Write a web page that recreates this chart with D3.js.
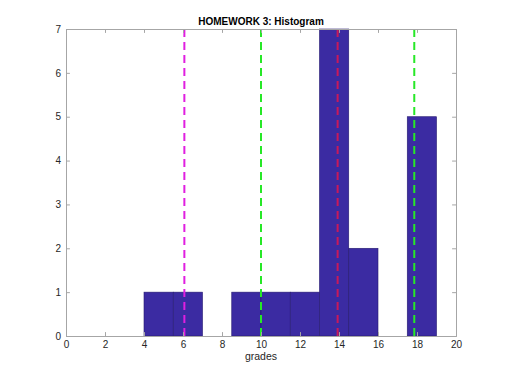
<!DOCTYPE html>
<html>
<head>
<meta charset="utf-8">
<script src="https://d3js.org/d3.v7.min.js"></script>
<style>
  body { margin: 0; background: #fff; }
  text { font-family: "Liberation Sans", Arial, Helvetica, sans-serif; }
</style>
</head>
<body>
<svg id="chart"></svg>
<script>
// histogram bins (edges) and counts
const binEdges = [4, 5.5, 7, 8.5, 10, 11.5, 13, 14.5, 16, 17.5, 19];
const binCounts = [1, 1, 0, 1, 1, 1, 7, 2, 0, 5];

// vertical dashed lines: mean -2sd, -1sd, mean, +1sd
const lineValues = [6.07, 10.0, 13.93, 17.86];
const lineColors = ["#e01fe0", "#27e827", "#c8195a", "#27e827"];

const xTicks = [0, 2, 4, 6, 8, 10, 12, 14, 16, 18, 20];
const yTicks = [0, 1, 2, 3, 4, 5, 6, 7];

const titleText = "HOMEWORK 3: Histogram";
const xLabelText = "grades";

const width = 505, height = 378;
const margin = { top: 29, right: 49, bottom: 42, left: 66 };
const innerW = width - margin.left - margin.right;
const innerH = height - margin.top - margin.bottom;
const tickLen = 3.9;
const axisColor = "#a6a6a6";

const svg = d3.select("#chart")
    .attr("width", width)
    .attr("height", height);

const chart = svg.append("g")
    .attr("transform", `translate(${margin.left}, ${margin.top})`);

const xscale = d3.scaleLinear().domain([0, 20]).range([0, innerW]);
const yscale = d3.scaleLinear().domain([0, 7]).range([innerH, 0]);

const bins = binCounts.map((c, i) => ({ x0: binEdges[i], x1: binEdges[i + 1], count: c }))
    .filter(d => d.count > 0);

chart.selectAll("rect.bar")
    .data(bins)
    .join("rect")
    .attr("class", "bar")
    .attr("x", d => xscale(d.x0))
    .attr("y", d => yscale(d.count))
    .attr("width", d => xscale(d.x1) - xscale(d.x0))
    .attr("height", d => yscale(0) - yscale(d.count))
    .attr("fill", "#3b2ba2")
    .attr("stroke", "#261a70")
    .attr("stroke-width", 0.6);

chart.selectAll("line.mark")
    .data(lineValues)
    .join("line")
    .attr("class", "mark")
    .attr("x1", d => xscale(d))
    .attr("x2", d => xscale(d))
    .attr("y1", yscale(7))
    .attr("y2", yscale(0))
    .attr("stroke", (d, i) => lineColors[i])
    .attr("stroke-width", 2)
    .attr("stroke-dasharray", "8,5");

// axes, MATLAB style: ticks inside, box around
const xaxis = d3.axisBottom(xscale).tickValues(xTicks).tickSize(-tickLen).tickPadding(4.5);
const yaxis = d3.axisLeft(yscale).tickValues(yTicks).tickSize(-tickLen).tickPadding(5)
    .tickFormat(d3.format("d"));

chart.append("g")
    .attr("transform", `translate(0, ${innerH})`)
    .call(xaxis);
chart.append("g").call(yaxis);

chart.append("g")
    .call(d3.axisTop(xscale).tickValues(xTicks).tickSize(-tickLen).tickFormat(""));
chart.append("g")
    .attr("transform", `translate(${innerW}, 0)`)
    .call(d3.axisRight(yscale).tickValues(yTicks).tickSize(-tickLen).tickFormat(""));

chart.selectAll(".domain, .tick line").attr("stroke", axisColor);
chart.selectAll(".tick text")
    .attr("fill", "#262626")
    .style("font-size", "10px");

svg.append("text")
    .attr("x", margin.left + innerW / 2)
    .attr("y", 25)
    .attr("text-anchor", "middle")
    .style("font-size", "10px")
    .style("font-weight", "bold")
    .attr("fill", "#000")
    .text(titleText);

svg.append("text")
    .attr("x", margin.left + innerW / 2)
    .attr("y", 360)
    .attr("text-anchor", "middle")
    .style("font-size", "10.5px")
    .attr("fill", "#262626")
    .text(xLabelText);
</script>
</body>
</html>
